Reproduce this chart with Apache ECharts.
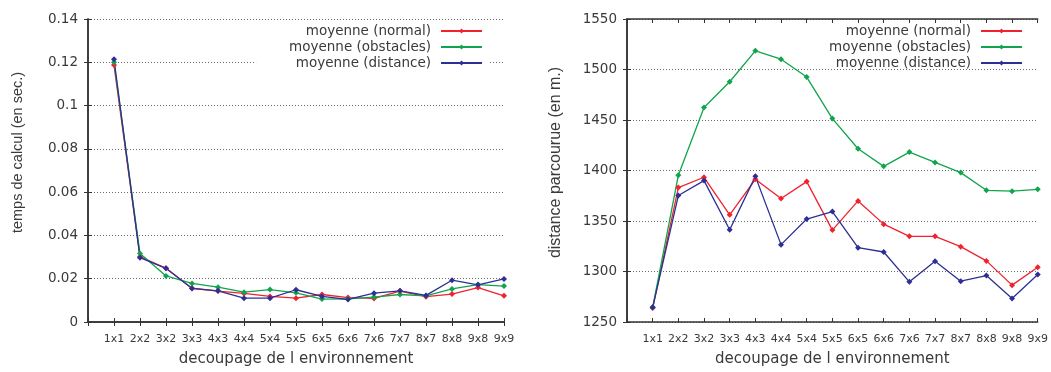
<!DOCTYPE html>
<html>
<head>
<meta charset="utf-8">
<script src="https://cdn.jsdelivr.net/npm/echarts@6/dist/echarts.min.js"></script>
<style>html,body{margin:0;padding:0;background:#fff}#c{width:1051px;height:372px}</style>
</head>
<body>
<div id="c"></div>
<script>
const categories = ['1x1','2x2','3x2','3x3','4x3','4x4','5x4','5x5','6x5','6x6','7x6','7x7','8x7','8x8','9x8','9x9'];
const seriesNames = ['moyenne (normal)','moyenne (obstacles)','moyenne (distance)'];

const tempsNormal    = [0.1187,0.0302,0.0248,0.0156,0.0143,0.0132,0.0118,0.0110,0.0127,0.0113,0.0109,0.0143,0.0117,0.0129,0.0159,0.0121];
const tempsObstacles = [0.1200,0.0316,0.0213,0.0178,0.0161,0.0138,0.0150,0.0135,0.0106,0.0107,0.0115,0.0127,0.0121,0.0153,0.0173,0.0166];
const tempsDistance  = [0.1214,0.0297,0.0248,0.0155,0.0144,0.0110,0.0110,0.0149,0.0118,0.0104,0.0133,0.0144,0.0123,0.0193,0.0172,0.0199];

const distNormal     = [1263.8,1383.1,1393.3,1356.1,1391.3,1372.2,1389.0,1341.0,1369.9,1346.9,1334.8,1334.8,1324.6,1310.5,1286.5,1304.2];
const distObstacles  = [1264.5,1395.2,1462.3,1487.9,1518.5,1510.2,1492.5,1451.4,1421.5,1404.1,1418.2,1408.0,1397.9,1380.4,1379.5,1381.4];
const distDistance   = [1264.5,1375.2,1390.0,1341.3,1394.2,1326.6,1351.9,1359.4,1323.6,1319.3,1289.8,1310.1,1290.4,1296.0,1273.3,1297.0];

const colors = ['#f0222e','#10a54c','#2c2f94'];
const FONT = 'DejaVu Sans';
const TXT = '#3a3a3a';
const FRAME = '#333333';

function pts(arr){ return arr.map((v,i)=>[i+1, v]); }

function xAxes(gi){
  return [{
    type:'value', gridIndex:gi, min:0, max:categories.length, interval:1, position:'bottom',
    axisLine:{show:true, lineStyle:{color:FRAME, width:1.5}},
    axisTick:{show:true, inside:true, length:4, lineStyle:{color:FRAME}},
    axisLabel:{show:true, margin:12, fontFamily:FONT, fontSize:11, color:TXT,
      formatter:(v)=> (v>=1 && v<=categories.length) ? categories[v-1] : ''},
    splitLine:{show:false},
    name:'decoupage de l environnement', nameLocation:'middle', nameGap:30,
    nameTextStyle:{fontFamily:FONT, fontSize:15, color:TXT}
  },{
    type:'value', gridIndex:gi, min:0, max:categories.length, interval:1, position:'top',
    axisLine:{show:true, lineStyle:{color:FRAME, width:1.5}},
    axisTick:{show:true, inside:true, length:4, lineStyle:{color:FRAME}},
    axisLabel:{show:false}, splitLine:{show:false}
  }];
}
function yAxes(gi, min, max, interval, name, nameSize, pad){
  return [{
    type:'value', gridIndex:gi, min:min, max:max, interval:interval, position:'left',
    axisLine:{show:true, lineStyle:{color:FRAME, width:1.5}},
    axisTick:{show:true, inside:true, length:4, lineStyle:{color:FRAME}},
    axisLabel:{margin:10, fontFamily:FONT, fontSize:13.5, color:TXT, formatter:(v)=>String(v)},
    splitLine:{show:true, lineStyle:{color:'#6a6a6a', width:1, type:[1,2]}},
    name:name, nameLocation:'middle', nameGap:63,
    nameTextStyle:{fontFamily:'Liberation Sans', fontSize:nameSize, color:TXT, padding:[0,0,0,pad]}
  },{
    type:'value', gridIndex:gi, min:min, max:max, interval:interval, position:'right',
    axisLine:{show:true, lineStyle:{color:FRAME, width:1.5}},
    axisTick:{show:true, inside:true, length:4, lineStyle:{color:FRAME}},
    axisLabel:{show:false}, splitLine:{show:false}
  }];
}

function mkSeries(data, idx, xi, yi){
  return {
    name: seriesNames[idx], type:'line', xAxisIndex:xi, yAxisIndex:yi,
    data: pts(data), symbol:'diamond', symbolSize:6, showSymbol:true,
    lineStyle:{width:1.3, color:colors[idx]}, itemStyle:{color:colors[idx]},
    emphasis:{disabled:true}, animation:false, z:3
  };
}

function legend(right, bg){
  return {
    orient:'vertical', right:right, top:20, align:'right',
    itemWidth:41, itemHeight:6, itemGap:2,
    padding:[4,7,4,33], backgroundColor:bg,
    data:seriesNames,
    textStyle:{fontFamily:FONT, fontSize:13.5, color:TXT, padding:[0,5,0,0]},
    selectedMode:false
  };
}

const chart = echarts.init(document.getElementById('c'), null, {renderer:'canvas'});
chart.setOption({
  animation:false,
  backgroundColor:'#fff',
  color:colors,
  grid:[
    {left:88, top:19, width:416, height:305},
    {left:627, top:19, width:414, height:305}
  ],
  xAxis:[...xAxes(0), ...xAxes(1)],
  yAxis:[
    ...yAxes(0, 0, 0.14, 0.02, 'temps de calcul (en sec.)', 14.5, 36),
    ...yAxes(1, 1250, 1550, 50, 'distance parcourue (en m.)', 16, 16)
  ],
  legend:[legend(561,'#fff'), legend(21,'transparent')],
  series:[
    mkSeries(tempsNormal,0,0,0), mkSeries(tempsObstacles,1,0,0), mkSeries(tempsDistance,2,0,0),
    mkSeries(distNormal,0,2,2), mkSeries(distObstacles,1,2,2), mkSeries(distDistance,2,2,2)
  ]
});
</script>
</body>
</html>
